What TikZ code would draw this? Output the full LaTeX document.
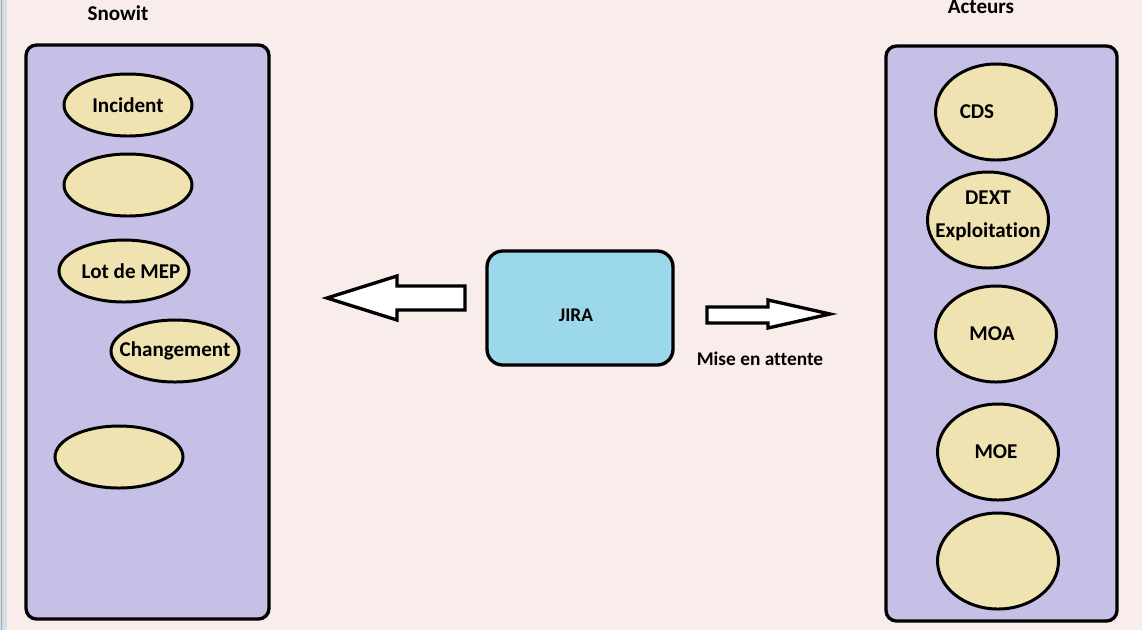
\documentclass[tikz,border=0pt]{standalone}
\usepackage{fontspec}
\setmainfont[Ligatures=NoCommon]{Carlito}
\usepackage{xcolor}
\usetikzlibrary{shapes.geometric}
\definecolor{fond}{HTML}{F8EDEB}
\definecolor{cadre}{HTML}{C6BFE6}
\definecolor{bulle}{HTML}{F0E3B2}
\definecolor{outil}{HTML}{9BD8E9}
\definecolor{regle}{HTML}{D6DEEA}
\tikzset{
	bloc/.style={draw,line width=1.9pt,rounded corners=6pt},
	texte/.style={font=\bfseries\fontsize{12}{14}\selectfont},
	bulle/.style={draw,ellipse,fill=bulle,line width=1.7pt,inner sep=0pt},
	grande/.style={bulle,minimum width=121\unit,minimum height=96\unit},
	petite/.style={bulle,minimum width=128\unit,minimum height=62\unit},
	fleche/.style={draw,fill=white,line width=1.9pt,line join=miter}
}
\newcommand{\unit}{*0.02cm}
\begin{document}
\begin{tikzpicture}[x=0.02cm,y=-0.02cm]

%
\useasboundingbox (0,0) rectangle (1142,630);
\fill[fond] (0,0) rectangle (1142,630);
\fill[regle] (0,0) rectangle (7,630);
\draw[gray!70,line width=0.6pt] (1.5,0) -- (1.5,630);

% Snowit
\draw[bloc,fill=cadre] (26,45) rectangle (269,619);
\node[texte] (snowit) at (118,13) {Snowit};
\node[petite,label={[texte]center:Incident}] (incident) at (128,105) {};
\node[petite] (vide1) at (128,185) {};
\node[petite,minimum width=130\unit,label={[texte,xshift=7\unit]center:Lot de MEP}] (lot) at (124,271) {};
\node[petite,label={[texte]center:Changement}] (changement) at (175,351) {};
\node[petite] (vide2) at (119,457) {};

% Acteurs
\draw[bloc,fill=cadre] (886,46) rectangle (1117,621);
\node[texte] (acteurs) at (981,7) {Acteurs};
\node[grande,label={[texte,xshift=-19\unit]center:CDS}] (cds) at (996,112) {};
\node[grande,label={[texte,align=center,yshift=4\unit]center:DEXT\\[5pt]Exploitation}] (dext) at (988,220) {};
\node[grande,label={[texte,xshift=-4\unit]center:MOA}] (moa) at (996,334) {};
\node[grande,label={[texte,xshift=-2\unit]center:MOE}] (moe) at (998,452) {};
\node[grande] (vide3) at (998,561) {};

% JIRA
\draw[bloc,fill=outil,rounded corners=9pt] (487,251) rectangle (673,365);
\node[texte,font=\bfseries\fontsize{11}{13}\selectfont] (jira) at (576,315) {JIRA};
\draw[fleche] (465,286) -- (397,286) -- (397,276) -- (327,298) -- (397,320) -- (397,310) -- (465,310) -- cycle;
\draw[fleche] (707,307) -- (768,307) -- (768,300) -- (830,314) -- (768,328) -- (768,323) -- (707,323) -- cycle;
\node[texte,font=\bfseries\fontsize{11}{13}\selectfont] (attente) at (760,359) {Mise en attente};

\end{tikzpicture}
\end{document}
